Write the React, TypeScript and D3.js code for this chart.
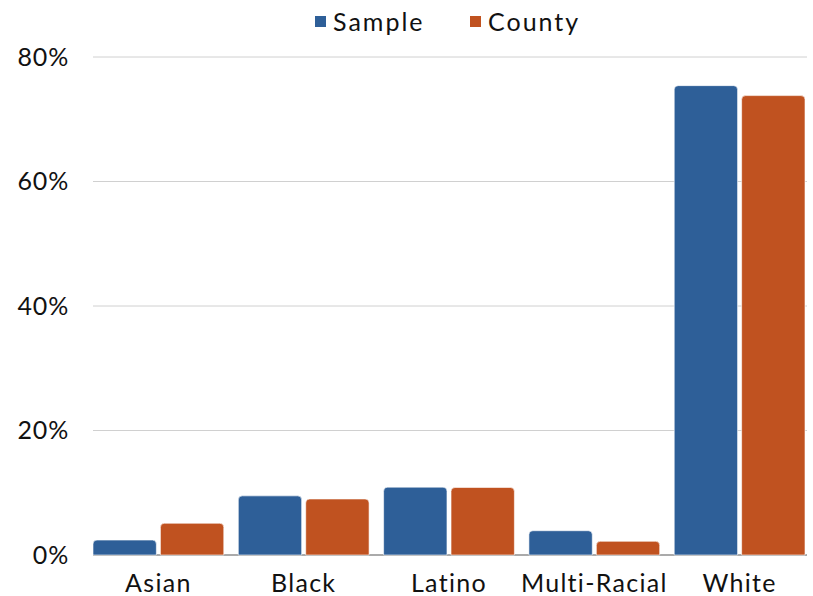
import React from "react";
import * as d3 from "d3";

const categories = ["Asian", "Black", "Latino", "Multi-Racial", "White"];
const seriesNames = ["Sample", "County"];
const sampleValues = [2.4, 9.5, 10.9, 3.9, 75.4];
const countyValues = [5.1, 9.0, 10.85, 2.2, 73.8];
const yTicks = [0, 20, 40, 60, 80];
const colors = ["#2e5f98", "#c05220"];

const W = 813;
const H = 596;
const FONT = "Lato, 'Noto Sans', sans-serif";
const LS = 1.3;

function topRoundedRect(x: number, y: number, w: number, h: number, r: number) {
  const rr = Math.min(r, h, w / 2);
  return `M${x},${y + h}V${y + rr}Q${x},${y} ${x + rr},${y}H${x + w - rr}Q${x + w},${y} ${x + w},${y + rr}V${y + h}Z`;
}

export default function App() {
  const x0 = d3.scaleBand<string>().domain(categories).range([93, 805]).paddingInner(0.1).paddingOuter(0);
  const x1 = d3.scaleBand<string>().domain(seriesNames).range([0, x0.bandwidth()]).paddingInner(0.06);
  const y = d3.scaleLinear().domain([0, 80]).range([555, 57]);
  const series = [sampleValues, countyValues];

  return (
    <svg width={W} height={H} style={{ position: "absolute", left: 0, top: 0, background: "#fff" }}>
      {/* gridlines */}
      {yTicks.filter((t) => t > 0).map((t) => (
        <line key={t} x1={93} x2={807} y1={y(t)} y2={y(t)} stroke="#d0d0d0" strokeWidth={1} />
      ))}
      {/* y tick labels */}
      {yTicks.map((t) => (
        <text key={t} x={69} y={y(t)} dy="0.35em" textAnchor="end" fontFamily={FONT} fontSize={25} letterSpacing={0.8} fill="#111">
          {`${t}%`}
        </text>
      ))}
      {/* baseline */}
      <line x1={93} x2={807} y1={y(0)} y2={y(0)} stroke="#aaaaaa" strokeWidth={2} />
      {/* bars */}
      {categories.map((c, i) => (
        <g key={c} transform={`translate(${x0(c)},0)`}>
          {seriesNames.map((s, j) => {
            const v = series[j][i];
            const bx = x1(s)!;
            const by = y(v);
            return (
              <path
                key={s}
                d={topRoundedRect(bx, by, x1.bandwidth(), y(0) - by, 4)}
                fill={colors[j]}
                stroke="#fff"
                strokeWidth={0.6}
              />
            );
          })}
          <text x={x0.bandwidth() / 2} y={592} textAnchor="middle" fontFamily={FONT} fontSize={25} letterSpacing={LS} fill="#111">
            {c}
          </text>
        </g>
      ))}
      {/* legend */}
      <g>
        <rect x={315} y={16} width={11} height={11} fill={colors[0]} />
        <text x={333} y={22} dy="0.35em" fontFamily={FONT} fontSize={25} letterSpacing={2} fill="#111">{seriesNames[0]}</text>
        <rect x={470} y={16} width={11} height={11} fill={colors[1]} />
        <text x={488} y={22} dy="0.35em" fontFamily={FONT} fontSize={25} letterSpacing={2} fill="#111">{seriesNames[1]}</text>
      </g>
    </svg>
  );
}
